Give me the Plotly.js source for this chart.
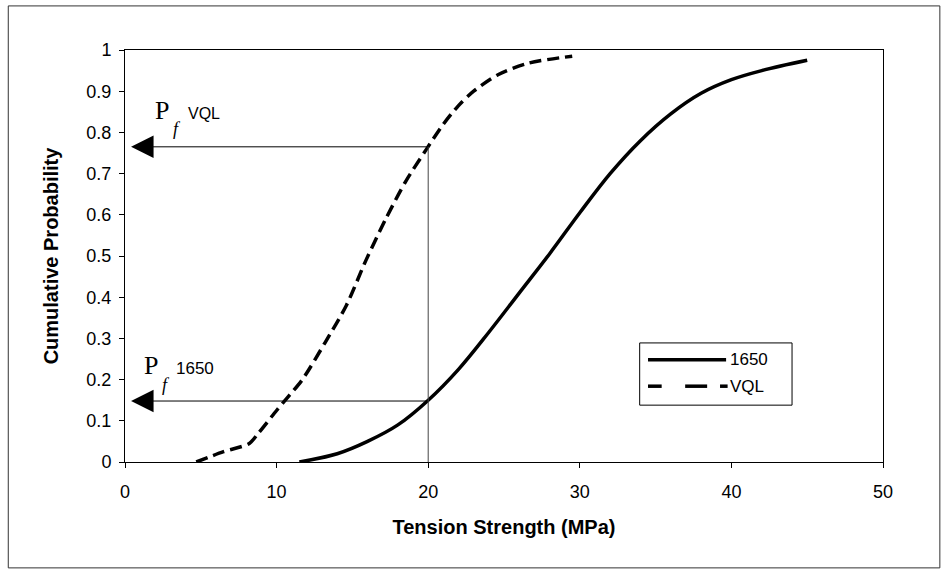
<!DOCTYPE html>
<html>
<head>
<meta charset="utf-8">
<script src="https://cdn.plot.ly/plotly-3.0.1.min.js"></script>
<style>
  html, body { margin: 0; padding: 0; background: #fff; }
  #chart { width: 944px; height: 583px; }
</style>
</head>
<body>
<div id="chart"></div>
<script>
// Cumulative probability of tension strength for the two materials
const strength1650 = [11.5, 14, 16, 18, 20, 22, 24, 26, 28, 30, 32, 34, 36, 38, 40, 42, 45];
const prob1650     = [0, 0.02, 0.05, 0.09, 0.15, 0.225, 0.315, 0.41, 0.505, 0.605, 0.70, 0.78, 0.845, 0.895, 0.928, 0.95, 0.975];

const strengthVQL = [4.7, 6.5, 8.2, 8.8, 10, 10.8, 11.7, 13.2, 14.6, 15.9, 17.2, 18.5, 19.9, 21, 22, 23, 24.6, 26.6, 29.5];
const probVQL     = [0, 0.025, 0.045, 0.07, 0.125, 0.16, 0.2, 0.29, 0.38, 0.49, 0.59, 0.68, 0.76, 0.82, 0.865, 0.9, 0.94, 0.968, 0.985];

// Read-off strength and the failure probabilities it gives
const designStrength = 20;
const pfVQL = 0.765;
const pf1650 = 0.148;

const seriesNames = ['1650', 'VQL'];
const xTicks = [0, 10, 20, 30, 40, 50];
const yTicks = [0, 0.1, 0.2, 0.3, 0.4, 0.5, 0.6, 0.7, 0.8, 0.9, 1];
const yTickText = ['0', '0.1', '0.2', '0.3', '0.4', '0.5', '0.6', '0.7', '0.8', '0.9', '1'];

const sans = 'Arial, "Liberation Sans", sans-serif';
const serif = '"Times New Roman", "Liberation Serif", serif';

const traces = [
  {
    x: strength1650, y: prob1650, name: seriesNames[0], type: 'scatter', mode: 'lines',
    line: { color: '#000', width: 3.5, shape: 'spline', smoothing: 1 }
  },
  {
    x: strengthVQL, y: probVQL, name: seriesNames[1], type: 'scatter', mode: 'lines',
    line: { color: '#000', width: 3.5, dash: '12px,6px', shape: 'spline', smoothing: 0.8 }
  }
];

const shapes = [
  // outer frame around the whole figure
  { type: 'rect', xref: 'paper', yref: 'paper', x0: -0.154, x1: 1.075, y0: -0.257, y1: 1.107,
    line: { color: '#333', width: 1 }, fillcolor: 'rgba(0,0,0,0)', layer: 'below' },
  // vertical read-off line at the design strength
  { type: 'line', xref: 'x', yref: 'y', x0: designStrength, x1: designStrength, y0: 0, y1: pfVQL,
    line: { color: '#444', width: 1 } },
  // legend box
  { type: 'rect', xref: 'paper', yref: 'paper', x0: 0.679, x1: 0.880, y0: 0.138, y1: 0.289,
    line: { color: '#000', width: 1 }, fillcolor: '#fff' },
  // legend sample: solid
  { type: 'line', xref: 'paper', yref: 'paper', x0: 0.690, x1: 0.793, y0: 0.248, y1: 0.248,
    line: { color: '#000', width: 3.5 } },
  // legend sample: dashed
  { type: 'line', xref: 'paper', yref: 'paper', x0: 0.690, x1: 0.708, y0: 0.184, y1: 0.184,
    line: { color: '#000', width: 3.5 } },
  { type: 'line', xref: 'paper', yref: 'paper', x0: 0.739, x1: 0.768, y0: 0.184, y1: 0.184,
    line: { color: '#000', width: 3.5 } },
  { type: 'line', xref: 'paper', yref: 'paper', x0: 0.785, x1: 0.795, y0: 0.184, y1: 0.184,
    line: { color: '#000', width: 3.5 } }
];

const annotations = [
  // arrows from the curves back to the probability axis
  { x: 0.4, y: pfVQL, xref: 'x', yref: 'y', ax: designStrength, ay: pfVQL, axref: 'x', ayref: 'y',
    text: '', showarrow: true, arrowhead: 2, arrowsize: 4.5, arrowwidth: 1, arrowcolor: '#000' },
  { x: 0.4, y: pf1650, xref: 'x', yref: 'y', ax: designStrength, ay: pf1650, axref: 'x', ayref: 'y',
    text: '', showarrow: true, arrowhead: 2, arrowsize: 4.5, arrowwidth: 1, arrowcolor: '#000' },
  // P_f labels
  { x: 2.44, y: 0.854, xref: 'x', yref: 'y', text: 'P', showarrow: false,
    font: { family: serif, size: 26, color: '#000' }, xanchor: 'center', yanchor: 'middle' },
  { x: 3.43, y: 0.808, xref: 'x', yref: 'y', text: '<i>f</i>', showarrow: false,
    font: { family: serif, size: 18, color: '#000' }, xanchor: 'center', yanchor: 'middle' },
  { x: 4.05, y: 0.845, xref: 'x', yref: 'y', text: 'VQL', showarrow: false,
    font: { family: sans, size: 16, color: '#000' }, xanchor: 'left', yanchor: 'middle' },
  { x: 1.72, y: 0.235, xref: 'x', yref: 'y', text: 'P', showarrow: false,
    font: { family: serif, size: 26, color: '#000' }, xanchor: 'center', yanchor: 'middle' },
  { x: 2.70, y: 0.188, xref: 'x', yref: 'y', text: '<i>f</i>', showarrow: false,
    font: { family: serif, size: 18, color: '#000' }, xanchor: 'center', yanchor: 'middle' },
  { x: 3.2, y: 0.228, xref: 'x', yref: 'y', text: '1650', showarrow: false,
    font: { family: sans, size: 17, color: '#000' }, xanchor: 'left', yanchor: 'middle' },
  // legend labels
  { x: 0.796, y: 0.248, xref: 'paper', yref: 'paper', text: seriesNames[0], showarrow: false,
    font: { family: sans, size: 17, color: '#000' }, xanchor: 'left', yanchor: 'middle' },
  { x: 0.796, y: 0.184, xref: 'paper', yref: 'paper', text: seriesNames[1], showarrow: false,
    font: { family: sans, size: 17, color: '#000' }, xanchor: 'left', yanchor: 'middle' }
];

const layout = {
  width: 944, height: 583,
  margin: { l: 125, r: 61, t: 50, b: 121 },
  paper_bgcolor: '#fff', plot_bgcolor: '#fff',
  showlegend: false,
  font: { family: sans, color: '#000' },
  xaxis: {
    range: [0, 50], tickvals: xTicks, ticks: 'outside', ticklen: 5, tickcolor: '#000',
    ticklabelstandoff: 8,
    showgrid: false, zeroline: false, showline: true, linecolor: '#000', linewidth: 1, mirror: true,
    tickfont: { family: sans, size: 18 },
    title: { text: 'Tension Strength (MPa)', font: { family: sans, size: 20, weight: 'bold' }, standoff: 19 },
    automargin: true
  },
  yaxis: {
    range: [0, 1], tickvals: yTicks, ticktext: yTickText, ticks: 'outside', ticklen: 5, tickcolor: '#000',
    ticklabelstandoff: 4,
    showgrid: false, zeroline: false, showline: true, linecolor: '#000', linewidth: 1, mirror: true,
    tickfont: { family: sans, size: 18 },
    title: { text: 'Cumulative Probability', font: { family: sans, size: 20, weight: 'bold' }, standoff: 22 },
    automargin: true
  },
  shapes: shapes,
  annotations: annotations
};

Plotly.newPlot('chart', traces, layout, { staticPlot: true, displayModeBar: false });
</script>
</body>
</html>
